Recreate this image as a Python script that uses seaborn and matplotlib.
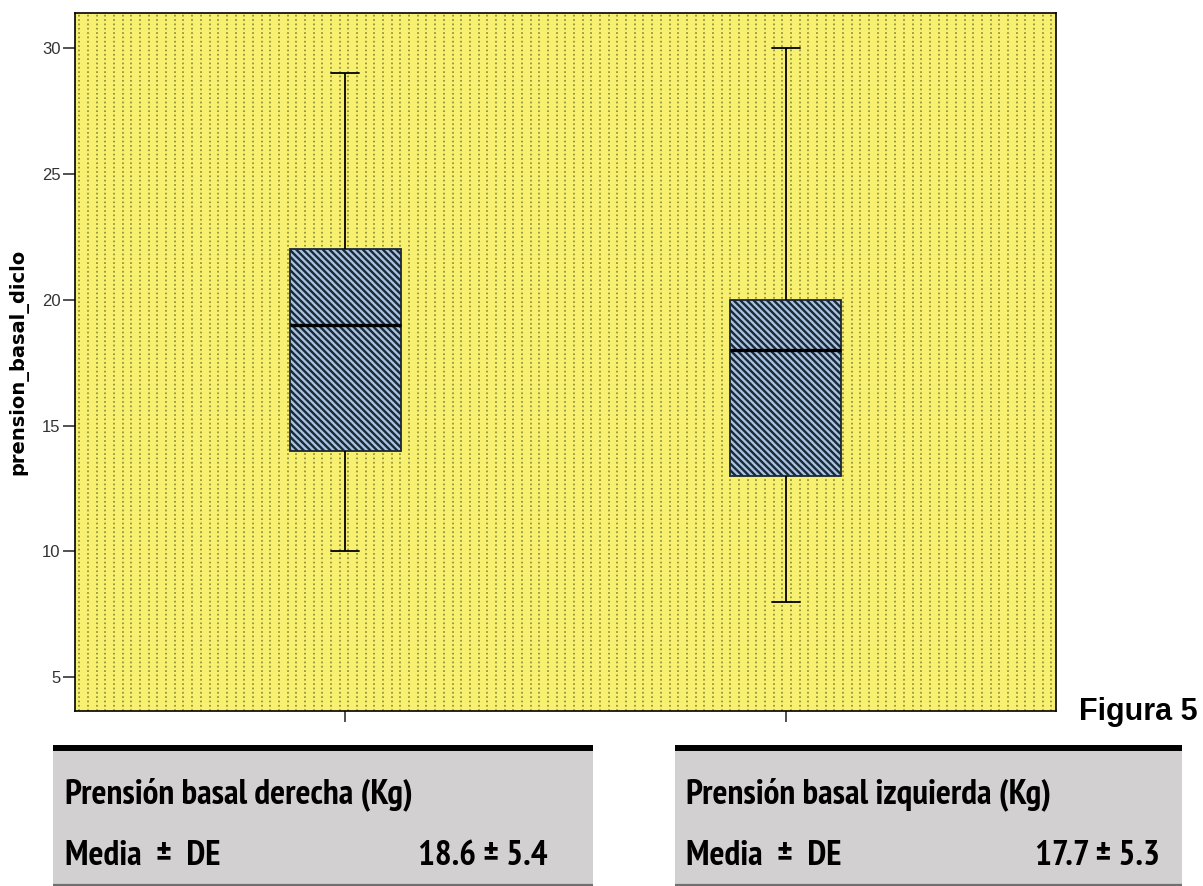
import numpy as np
import pandas as pd
import matplotlib
matplotlib.use("Agg")
import matplotlib.pyplot as plt
from matplotlib import font_manager
from matplotlib.font_manager import FontProperties
from matplotlib.collections import LineCollection
from matplotlib.patches import Rectangle
from matplotlib.lines import Line2D
import seaborn as sns

# Five-number summaries of basal grip strength per hand (min, Q1, median, Q3, max)
lados = ["derecha", "izquierda"]
resumen_derecha = [10, 14, 19, 22, 29]
resumen_izquierda = [8, 13, 18, 20, 30]
medias = [18.6, 17.7]
desvios = [5.4, 5.3]
y_ticks = [5, 10, 15, 20, 25, 30]
y_label = "prension_basal_diclo"
titulos = ["Prensión basal derecha (Kg)", "Prensión basal izquierda (Kg)"]
fila_media = "Media  ±  DE"
figura = "Figura 5"

df = pd.DataFrame({
    "lado": [lados[0]] * len(resumen_derecha) + [lados[1]] * len(resumen_izquierda),
    "valor": resumen_derecha + resumen_izquierda,
})

sns.set_theme(style="ticks")
plt.rcParams["font.family"] = ["Liberation Sans", "DejaVu Sans"]
plt.rcParams["hatch.linewidth"] = 1.7
plt.rcParams["text.color"] = "black"


def fuente_estrecha():
    """Pick the narrowest bold sans face installed for the summary tables."""
    rango = {"ultra-condensed": 0, "extra-condensed": 1, "condensed": 2,
             "semi-condensed": 3}
    mejores = []
    for f in font_manager.fontManager.ttflist:
        nombre = (f.name + " " + f.fname).lower()
        if "mono" in nombre or "serif" in nombre and "sans" not in nombre:
            continue
        if "cjk" in nombre:
            continue
        est = f.stretch if isinstance(f.stretch, str) else ""
        if est in rango:
            r = rango[est]
        elif "narrow" in nombre:
            r = 2
        elif "extracondensed" in nombre:
            r = 1
        elif "semicondensed" in nombre:
            r = 3
        elif "condensed" in nombre:
            r = 2
        else:
            continue
        peso = f.weight if isinstance(f.weight, (int, float)) else (700 if "bold" in str(f.weight).lower() else 400)
        if "italic" in nombre or "oblique" in nombre or f.style != "normal":
            continue
        if peso < 600 or "extrabold" in nombre or "black" in nombre:
            continue
        pref = 0 if "narrow" in nombre else 1
        mejores.append((abs(r - 2), pref, f.fname))
    if mejores:
        mejores.sort()
        return FontProperties(fname=mejores[0][2])
    return FontProperties(family="Liberation Sans", weight="bold")


W, H = 1203, 886
fig = plt.figure(figsize=(W / 100, H / 100), dpi=100)


def fx(x):
    return x / W


def fy(y):
    return 1 - y / H


ax = fig.add_axes([fx(75), fy(711), fx(1056) - fx(75), fy(13) - fy(711)])
ax.set_facecolor("#f7f070")

# dotted texture of the plotting area
paso = 8.67 / 980
xs = np.arange(paso / 2, 1, paso)
segs = [[(x, 0), (x, 1)] for x in xs]
puntos = LineCollection(segs, transform=ax.transAxes, colors="#8f8e38",
                        linewidths=1.25, linestyles=[(0, (1.0, 1.5))], zorder=0.5)
ax.add_collection(puntos, autolim=False)

ancho = 0.252
sns.boxplot(data=df, x="lado", y="valor", order=lados, width=ancho, whis=1.5,
            color="#a9c2dc", linecolor="black", linewidth=1.3, fliersize=0,
            medianprops=dict(linewidth=2.4, color="black"), ax=ax)

for p in ax.patches:
    p.set_facecolor("#a9c4e0")
    p.set_edgecolor("#1a2838")
    p.set_hatch("\\\\\\\\\\")
    p.set_linewidth(1.3)
    p.set_zorder(2)

cap = 0.064
for ln in ax.lines:
    xd = np.asarray(ln.get_xdata(), float)
    yd = np.asarray(ln.get_ydata(), float)
    if len(xd) == 2 and yd[0] == yd[1] and abs(xd[1] - xd[0]) < 0.75 * ancho:
        c = xd.mean()
        ln.set_xdata([c - cap / 2, c + cap / 2])
        ln.set_linewidth(1.3)

ax.set_xlim(-0.6136, 1.6136)
ax.set_ylim(3.65, 31.4)
ax.set_yticks(y_ticks)
ax.set_xticks([0, 1])
ax.set_xticklabels([])
ax.set_xlabel("")
ax.set_ylabel(y_label, fontsize=14, fontweight="bold", family="DejaVu Sans", color="black")
ax.yaxis.set_label_coords(-0.048, 0.5)
for s in ax.spines.values():
    s.set_visible(True)
    s.set_color("black")
    s.set_linewidth(1.2)
ax.tick_params(axis="y", length=8.5, width=1.2, color="#333333", labelsize=12,
               labelcolor="#333333", pad=2)
ax.tick_params(axis="x", length=8, width=1.2, color="#333333")

fig.text(fx(1079), fy(720), figura, fontsize=22, fontweight="bold",
         family="Liberation Sans", va="baseline", ha="left", color="black")

# summary tables under each box
fp = fuente_estrecha()
tablas = [(53, 593, 65, 548), (675, 1182, 686, 1160)]
textos = []
for (x0, x1, tx, vx), titulo, m, d in zip(tablas, titulos, medias, desvios):
    fig.patches.append(Rectangle((fx(x0), fy(885)), fx(x1) - fx(x0), fy(750) - fy(885),
                                 transform=fig.transFigure, facecolor="#d2d0d1",
                                 edgecolor="none", zorder=1))
    fig.lines.append(Line2D([fx(x0), fx(x1)], [fy(748), fy(748)], transform=fig.transFigure,
                            color="black", linewidth=4.3, solid_capstyle="butt", zorder=2))
    fig.lines.append(Line2D([fx(x0), fx(x1)], [fy(884.5), fy(884.5)], transform=fig.transFigure,
                            color="#707070", linewidth=1.6, solid_capstyle="butt", zorder=2))
    textos.append(fig.text(fx(tx), fy(803), titulo, fontproperties=fp, va="baseline",
                           ha="left", zorder=3, color="black"))
    textos.append(fig.text(fx(tx), fy(865), fila_media, fontproperties=fp, va="baseline",
                           ha="left", zorder=3, color="black"))
    textos.append(fig.text(fx(vx), fy(865), f"{m:.1f} ± {d:.1f}", fontproperties=fp,
                           va="baseline", ha="right", zorder=3, color="black"))

# size the table text so the first heading spans its measured width
for t in textos:
    t.set_fontsize(20)
rend = fig.canvas.get_renderer()
ancho_px = textos[0].get_window_extent(rend).width
tam = min(20 * 348 / ancho_px, 32)
for t in textos:
    t.set_fontsize(tam)

fig.savefig("out.png", dpi=100)
